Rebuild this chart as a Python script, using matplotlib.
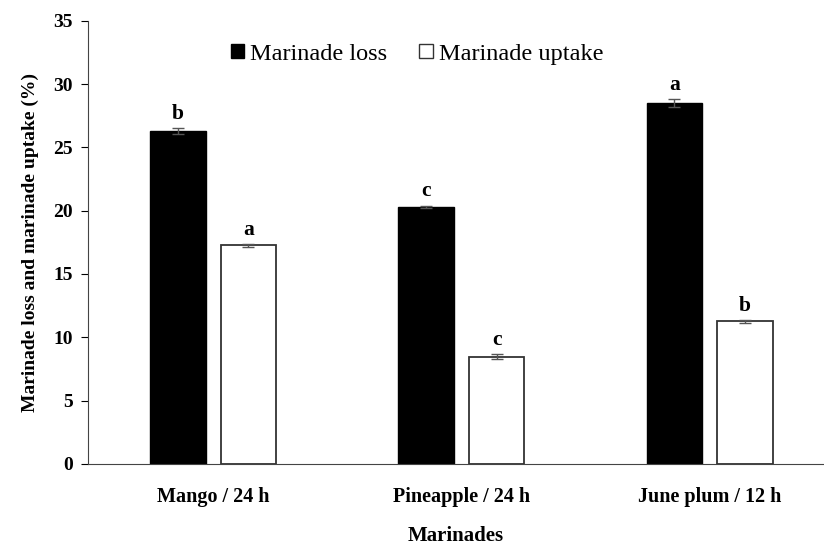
import matplotlib.pyplot as plt
import numpy as np
from matplotlib.patches import Patch

plt.rcParams["font.family"] = ["Liberation Serif", "DejaVu Serif"]

# data
categories = ["Mango / 24 h", "Pineapple / 24 h", "June plum / 12 h"]
loss = [26.3, 20.3, 28.5]
loss_err = [0.25, 0.1, 0.3]
uptake = [17.25, 8.45, 11.25]
uptake_err = [0.1, 0.2, 0.1]
loss_letters = ["b", "c", "a"]
uptake_letters = ["a", "c", "b"]

x = np.arange(len(categories))
width = 0.223
off = 0.142

fig = plt.figure(figsize=(8.24, 5.47), dpi=100)
ax = fig.add_axes([0.107, 0.152, 0.893, 0.810])

err_kw = dict(ecolor="#555555", elinewidth=1, capsize=4, capthick=1)
ax.bar(x - off, loss, width, color="black", edgecolor="black",
       yerr=loss_err, error_kw=err_kw)
ax.bar(x + off, uptake, width, color="white", edgecolor="#333333",
       linewidth=1.3, yerr=uptake_err, error_kw=err_kw)

for xi, v, e, t in zip(x - off, loss, loss_err, loss_letters):
    ax.annotate(t, (xi, v + e), xytext=(0, 3), textcoords="offset points",
                ha="center", va="bottom", fontsize=15.5, fontweight="bold")
for xi, v, e, t in zip(x + off, uptake, uptake_err, uptake_letters):
    ax.annotate(t, (xi, v + e), xytext=(0, 3), textcoords="offset points",
                ha="center", va="bottom", fontsize=15.5, fontweight="bold")

ax.set_xlim(-0.503, 2.46)
ax.set_ylim(0, 35)
ax.set_yticks(range(0, 36, 5))
ax.set_xticks(x)
ax.set_xticklabels(categories, fontsize=14.5, fontweight="bold")
ax.tick_params(axis="x", length=0, pad=17)
ax.tick_params(axis="y", direction="out", length=5, labelsize=14, pad=6)
for lab in ax.get_yticklabels():
    lab.set_fontweight("bold")

ax.spines["top"].set_visible(False)
ax.spines["right"].set_visible(False)
ax.spines["left"].set_color("#444444")
ax.spines["bottom"].set_color("#444444")

# x title placed near the bottom edge, as in the original
fig.text(0.553, 1 - 541 / 547, "Marinades", fontsize=15, fontweight="bold",
         ha="center", va="baseline")
ax.set_ylabel("Marinade loss and marinade uptake (%)", fontsize=14,
              fontweight="bold", labelpad=10)

handles = [Patch(facecolor="black", edgecolor="black"),
           Patch(facecolor="white", edgecolor="#333333")]
ax.legend(handles, ["Marinade loss", "Marinade uptake"], loc="center",
          bbox_to_anchor=(0.447, 0.925), ncol=2, frameon=False, fontsize=17.5,
          handlelength=0.55, handleheight=0.55, handletextpad=0.25,
          columnspacing=1.3)

fig.savefig("out.png", dpi=100)
